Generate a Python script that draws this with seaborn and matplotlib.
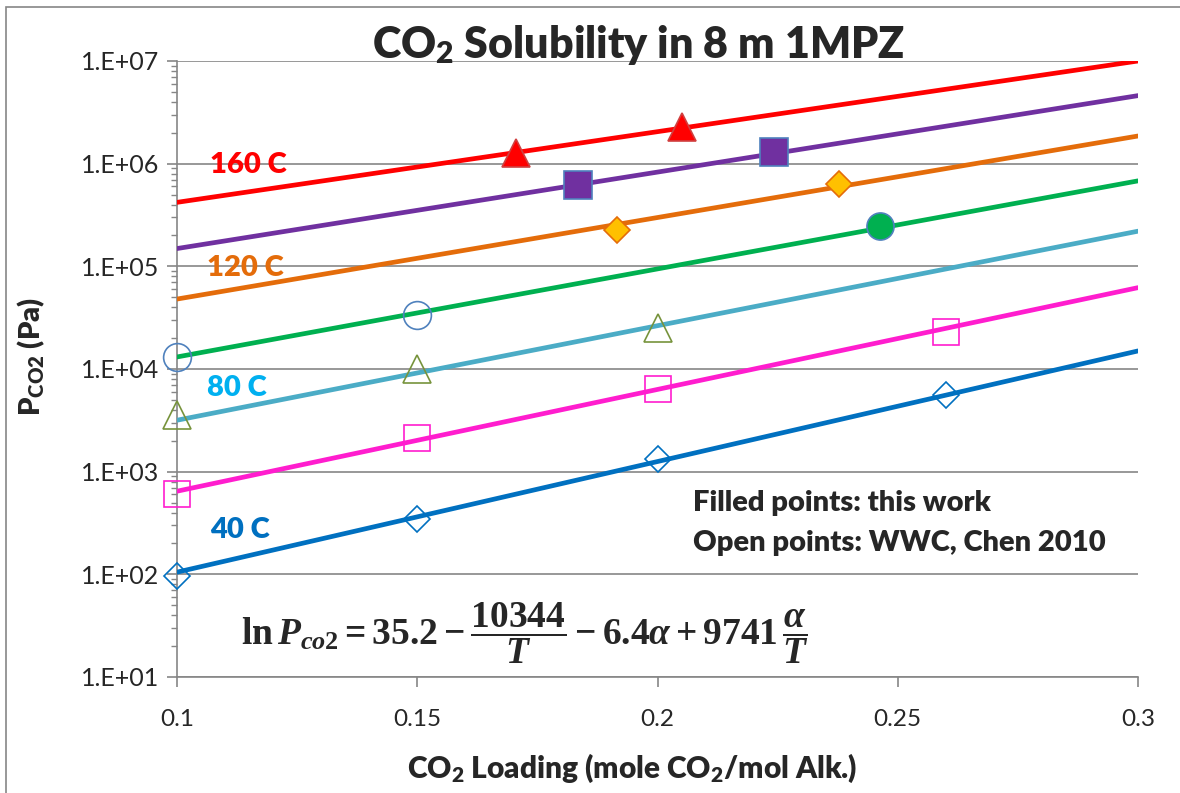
import numpy as np
import matplotlib
matplotlib.use("Agg")
import matplotlib.pyplot as plt
import seaborn as sns
from matplotlib.ticker import FixedLocator, LogLocator, NullFormatter
from matplotlib.patches import Rectangle

# ---------------- data ----------------
line_x = [0.1, 0.3]
line_40 = [105, 1.5e4]
line_60 = [645, 6.2e4]
line_80 = [3.17e3, 2.2e5]
line_100 = [1.31e4, 6.8e5]
line_120 = [4.8e4, 1.86e6]
line_140 = [1.49e5, 4.6e6]
line_160 = [4.2e5, 1.0e7]

# filled points: this work
tw_160_x = [0.1705, 0.2052]
tw_160_y = [1.28e6, 2.27e6]
tw_140_x = [0.1835, 0.2242]
tw_140_y = [6.2e5, 1.29e6]
tw_120_x = [0.1916, 0.2378]
tw_120_y = [2.25e5, 6.3e5]
tw_100_x = [0.2463]
tw_100_y = [2.47e5]

# open points: WWC, Chen 2010
ch_100_x = [0.1, 0.15]
ch_100_y = [1.3e4, 3.35e4]
ch_80_x = [0.1, 0.15, 0.2]
ch_80_y = [3.57e3, 1.0e4, 2.5e4]
ch_60_x = [0.1, 0.15, 0.2, 0.26]
ch_60_y = [612, 2.13e3, 6.36e3, 2.27e4]
ch_40_x = [0.1, 0.15, 0.2, 0.26]
ch_40_y = [95.6, 344, 1.32e3, 5.56e3]

x_ticks = [0.1, 0.15, 0.2, 0.25, 0.3]
x_tick_labels = ["0.1", "0.15", "0.2", "0.25", "0.3"]
y_ticks = [1e1, 1e2, 1e3, 1e4, 1e5, 1e6, 1e7]
y_tick_labels = ["1.E+01", "1.E+02", "1.E+03", "1.E+04", "1.E+05", "1.E+06", "1.E+07"]

temp_labels = ["160 C", "120 C", "80 C", "40 C"]

# ---------------- style ----------------
sns.set_style("white")
plt.rcParams["font.family"] = ["Lato", "DejaVu Sans"]
plt.rcParams["mathtext.fontset"] = "custom"
plt.rcParams["mathtext.rm"] = "Liberation Serif:bold"
plt.rcParams["mathtext.it"] = "Liberation Serif:italic:bold"
plt.rcParams["mathtext.bf"] = "Liberation Serif:bold"
plt.rcParams["mathtext.sf"] = "Lato:heavy"

GRAY = "#868686"
W = "heavy"

fig = plt.figure(figsize=(11.8, 7.93), dpi=100)
ax = fig.add_axes([177 / 1180, 1 - 677 / 793, (1138 - 177) / 1180, (677 - 61) / 793])

# border around the chart area
fig.patches.append(Rectangle((6 / 1180, -0.02), 1.2, 1 - 7 / 793 + 0.02,
                             transform=fig.transFigure, fill=False,
                             edgecolor=GRAY, linewidth=1.2, zorder=0))

# fitted lines
lines = [
    (line_160, "#FF0000"),
    (line_140, "#7030A0"),
    (line_120, "#E46C0A"),
    (line_100, "#00B050"),
    (line_80, "#4BACC6"),
    (line_60, "#FF1DCE"),
    (line_40, "#0070C0"),
]
for yv, c in lines:
    sns.lineplot(x=line_x, y=yv, color=c, linewidth=3.4, ax=ax, zorder=3,
                 solid_capstyle="round")

# open points (Chen 2010)
open_pts = [
    (ch_100_x, ch_100_y, "o", "#4F81BD", 20),
    (ch_80_x, ch_80_y, "^", "#77933C", 20),
    (ch_60_x, ch_60_y, "s", "#FF1DCE", 19),
    (ch_40_x, ch_40_y, "D", "#0070C0", 13.5),
]
for xv, yv, m, c, ms in open_pts:
    sns.lineplot(x=xv, y=yv, ax=ax, marker=m, markersize=ms, linestyle="none",
                 markerfacecolor="none", markeredgecolor=c, markeredgewidth=1.2,
                 color=c, zorder=4, clip_on=False)

# filled points (this work)
filled_pts = [
    (tw_160_x, tw_160_y, "^", "#FF0000", "#D04040", 20),
    (tw_140_x, tw_140_y, "s", "#7030A0", "#4F81BD", 19.5),
    (tw_120_x, tw_120_y, "D", "#FFC000", "#E46C0A", 13.5),
    (tw_100_x, tw_100_y, "o", "#00B050", "#4F81BD", 19.5),
]
for xv, yv, m, fc, ec, ms in filled_pts:
    sns.lineplot(x=xv, y=yv, ax=ax, marker=m, markersize=ms, linestyle="none",
                 markerfacecolor=fc, markeredgecolor=ec, markeredgewidth=1.2,
                 color=fc, zorder=5, clip_on=False)

# ---------------- axes ----------------
ax.set_yscale("log")
ax.set_xlim(0.1, 0.3)
ax.set_ylim(1e1, 1e7)
ax.xaxis.set_major_locator(FixedLocator(x_ticks))
ax.set_xticklabels(x_tick_labels)
ax.yaxis.set_major_locator(FixedLocator(y_ticks))
ax.set_yticklabels(y_tick_labels)
ax.yaxis.set_minor_locator(LogLocator(base=10, subs=np.arange(2, 10)))
ax.yaxis.set_minor_formatter(NullFormatter())

ax.grid(axis="y", which="major", color=GRAY, linewidth=1.2)
ax.grid(axis="x", visible=False)
for s in ["top", "right"]:
    ax.spines[s].set_visible(False)
for s in ["left", "bottom"]:
    ax.spines[s].set_color(GRAY)
    ax.spines[s].set_linewidth(1.2)

ax.tick_params(axis="y", which="major", direction="out", length=7, width=1.2,
               color=GRAY, labelsize=18, pad=6, left=True)
ax.tick_params(axis="y", which="minor", direction="out", length=4, width=1.0,
               color=GRAY, left=True)
ax.tick_params(axis="x", which="major", direction="out", length=7, width=1.2,
               color=GRAY, labelsize=17.5, pad=16, bottom=True)
ax.set_xlabel("")
ax.set_ylabel("P$_{\\mathsf{CO2}}$ (Pa)", fontsize=21, fontweight=W)
ax.yaxis.set_label_coords((47 - 177) / 961, 0.52)

# title and x label
fig.text(638 / 1180, 1 - 45 / 793, "CO$_{\\mathsf{2}}$ Solubility in 8 m 1MPZ",
         ha="center", va="center", fontsize=31, fontweight=W)
fig.text(632 / 1180, 1 - 768 / 793, "CO$_{\\mathsf{2}}$ Loading (mole CO$_{\\mathsf{2}}$/mol Alk.)",
         ha="center", va="center", fontsize=21.5, fontweight=W)

# temperature labels
label_pos = [(210, 165, "#FF0000"), (207, 268, "#E46C0A"),
             (207, 388, "#00B0F0"), (210, 530, "#0070C0")]
for txt, (px, py, c) in zip(temp_labels, label_pos):
    ax.text((px - 177) / 961, 1 - (py - 61) / 616, txt, transform=ax.transAxes,
            ha="left", va="center", fontsize=21, fontweight=W, color=c)

# annotations
ax.text((693 - 177) / 961, 1 - (503 - 61) / 616, "Filled points: this work",
        transform=ax.transAxes, ha="left", va="center", fontsize=21, fontweight=W)
ax.text((693 - 177) / 961, 1 - (543 - 61) / 616, "Open points: WWC, Chen 2010",
        transform=ax.transAxes, ha="left", va="center", fontsize=21, fontweight=W)

ax.text((525 - 177) / 961, 1 - (633 - 61) / 616,
        r"$\mathrm{ln}\,P_{co2} = 35.2 - \dfrac{10344}{T} - 6.4\alpha + 9741\,\dfrac{\alpha}{T}$",
        transform=ax.transAxes, ha="center", va="center", fontsize=27)

fig.savefig("out.png", dpi=100)
